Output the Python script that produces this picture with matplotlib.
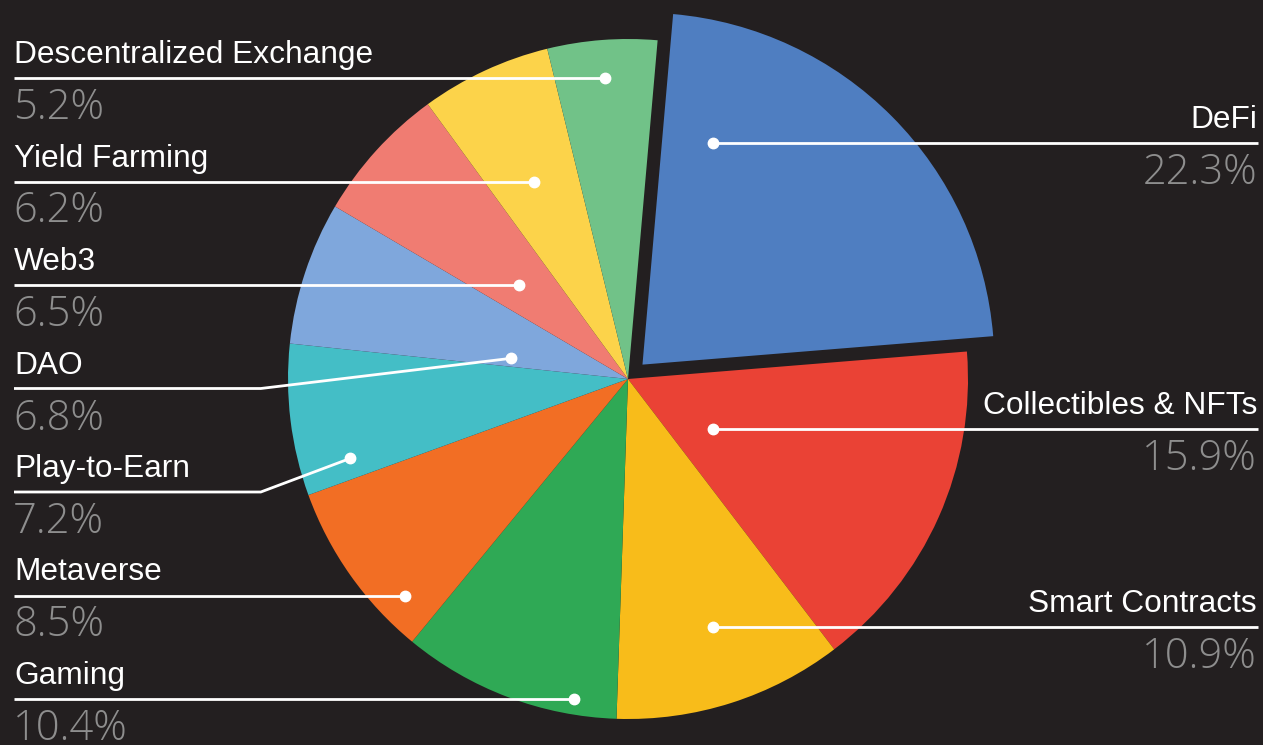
import numpy as np
import matplotlib
matplotlib.use("Agg")
import matplotlib.pyplot as plt

# --- data -------------------------------------------------------------
categories = ["DeFi", "Collectibles & NFTs", "Smart Contracts", "Gaming", "Metaverse",
              "Play-to-Earn", "DAO", "Web3", "Yield Farming", "Descentralized Exchange"]
shares = [22.3, 15.9, 10.9, 10.4, 8.5, 7.2, 6.8, 6.5, 6.2, 5.2]
slice_colors = ["#4f7ec1", "#ea4235", "#f8bc1a", "#2fa955", "#f26e24",
                "#44bec6", "#7fa7dc", "#f07c72", "#fcd34a", "#71c288"]

# --- layout -----------------------------------------------------------
W, H = 1263, 745
BG = "#231f20"
CX, CY, R = 628, H - 379, 340
START = 85
N_RIGHT = 3
right_rows = [143, 429, 627]                     # leader heights (px from top)
left_rows = list(np.linspace(78, 699, len(categories) - N_RIGHT))
LEFT_X, RIGHT_X = 14, 1258

fig = plt.figure(figsize=(W / 100, H / 100), dpi=100, facecolor=BG)
ax = fig.add_axes([0, 0, 1, 1])
ax.set_facecolor(BG)

wedges, _ = ax.pie(shares, colors=slice_colors, startangle=START, counterclock=False,
                   radius=R, center=(CX, CY), frame=True,
                   wedgeprops=dict(linewidth=0))

# pull out and enlarge the leading slice
hw = wedges[0]
mid = np.deg2rad((hw.theta1 + hw.theta2) / 2)
hw.set_center((CX + 0.06 * R * np.cos(mid), CY + 0.06 * R * np.sin(mid)))
hw.set_radius(1.035 * R)


def in_wedge(w, px, py, rmin=0.0, rmax=0.97, margin=3.0):
    cx, cy = w.center
    dx, dy = px - cx, py - cy
    r = np.hypot(dx, dy)
    ang = np.degrees(np.arctan2(dy, dx))
    span = w.theta2 - w.theta1
    rel = (ang - w.theta1) % 360
    return (r >= rmin * w.r) & (r <= rmax * w.r) & (rel >= margin) & (rel <= span - margin)


def anchor_on_row(w, ly, side):
    """Point inside wedge w on the horizontal row ly (or as close as possible)."""
    cx, cy = w.center
    if side == "right":
        x = CX + 0.25 * R
        if in_wedge(w, x, ly):
            return x, ly
    xs = np.linspace(cx - w.r, cx + w.r, 2000)
    ok = in_wedge(w, xs, np.full_like(xs, ly), rmin=0.25)
    if ok.sum() > 15:
        sel = xs[ok]
        return (sel.min() + sel.max()) / 2, ly
    # fall back: nearest interior point to the row
    angs = np.deg2rad(np.linspace(w.theta1 + 4, w.theta2 - 4, 300))
    rads = np.linspace(0.35, 0.85, 60) * w.r
    A, Rr = np.meshgrid(angs, rads)
    X = cx + Rr * np.cos(A)
    Y = cy + Rr * np.sin(A)
    k = np.argmin(np.abs(Y - ly) + 0.05 * np.abs(Rr - 0.8 * w.r))
    return X.flat[k], Y.flat[k]


name_kw = dict(color="white", fontsize=22.8, family=["Liberation Sans", "DejaVu Sans"])
pct_kw = dict(color="#8e8e8e", fontsize=30, family=["Open Sans", "Liberation Sans", "DejaVu Sans"],
              weight=300)
line_kw = dict(color="white", lw=2.0, solid_capstyle="butt", zorder=5)

for i, (name, val, w) in enumerate(zip(categories, shares, wedges)):
    if i < N_RIGHT:
        ly = H - right_rows[i]
        ax_, ay_ = anchor_on_row(w, ly, "right")
        ax.plot([ax_, RIGHT_X], [ly, ly], **line_kw)
        ax.text(RIGHT_X - 1, ly + 15, name, ha="right", va="baseline", **name_kw)
        ax.text(RIGHT_X - 1, ly - 41, f"{val:.1f}%", ha="right", va="baseline", **pct_kw)
    else:
        ly = H - left_rows[len(categories) - 1 - i]
        ax_, ay_ = anchor_on_row(w, ly, "left")
        if abs(ay_ - ly) < 1:
            ax.plot([LEFT_X, ax_], [ly, ly], **line_kw)
        else:
            ex = CX - 1.08 * R
            ax.plot([LEFT_X, ex, ax_], [ly, ly, ay_], **line_kw)
        ax.text(LEFT_X, ly + 15, name, ha="left", va="baseline", **name_kw)
        ax.text(LEFT_X - 1, ly - 41, f"{val:.1f}%", ha="left", va="baseline", **pct_kw)
    ax.plot(ax_, ay_, "o", ms=7.5, color="white", zorder=6)

ax.set_xlim(0, W)
ax.set_ylim(0, H)
ax.set_aspect("equal")
ax.axis("off")

fig.savefig("out.png", dpi=100, facecolor=BG)
